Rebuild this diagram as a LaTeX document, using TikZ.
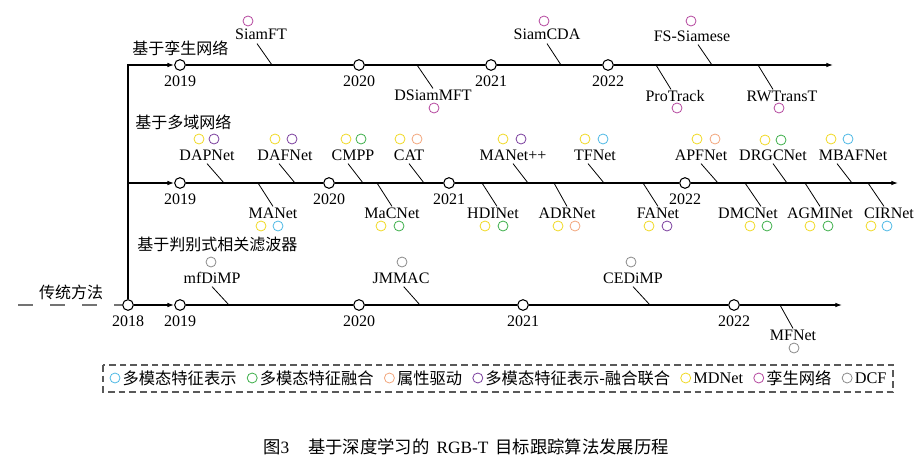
\documentclass[tikz,border=0pt]{standalone}
\usepackage{fontspec}
\setmainfont{Liberation Serif}
\newfontfamily\cjk{Noto Sans CJK SC}
\usetikzlibrary{arrows.meta,positioning}

\definecolor{repcol}{HTML}{4DB8E4}
\definecolor{fuscol}{HTML}{3DAE4A}
\definecolor{attrcol}{HTML}{F2A67C}
\definecolor{jointcol}{HTML}{7A3E9D}
\definecolor{mdncol}{HTML}{F0D924}
\definecolor{siamcol}{HTML}{B4479E}
\definecolor{dcfcol}{HTML}{8A8A8A}

\begin{document}
\begin{tikzpicture}[
    x=0.75pt, y=-0.75pt,
    font=\fontsize{12}{14}\selectfont,
    yearnode/.style={circle, draw, fill=white, line width=0.8pt, minimum size=8pt, inner sep=0pt},
    yearlabel/.style={inner sep=0.5pt, text height=8pt, text depth=2pt},
    algo/.style={inner sep=0.5pt, text height=8pt, text depth=2pt},
    dot/.style={circle, draw=#1, line width=0.6pt, minimum size=7.5pt, inner sep=0pt},
    mainline/.style={draw, line width=0.9pt},
    arrowed/.style={-{Latex[length=5pt, width=3.5pt]}},
    stem/.style={draw, line width=0.6pt},
    grouplabel/.style={anchor=west, inner sep=0pt, font=\cjk\fontsize{12}{14}\selectfont},
    legtext/.style={inner sep=0.5pt, font=\cjk\fontsize{12.2}{14}\selectfont},
    legname/.style={inner sep=0.5pt, font=\fontsize{12.2}{14}\selectfont},
    legbox/.style={draw=black!65, line width=0.9pt, dash pattern=on 5pt off 3pt},
    node distance=1pt
]
\useasboundingbox (0,0) rectangle (923,467);

% year axes
\node[yearnode] (s2019) at (180,65) {};
\node[yearnode] (s2020) at (359,65) {};
\node[yearnode] (s2021) at (491,65) {};
\node[yearnode] (s2022) at (608,65) {};
\coordinate (s-end) at (833,65);

\node[yearnode] (m2019) at (180,183) {};
\node[yearnode] (m2020) at (329,183) {};
\node[yearnode] (m2021) at (449,183) {};
\node[yearnode] (m2022) at (685,183) {};
\coordinate (m-end) at (898,183);

\node[yearnode] (t2018) at (128,305) {};
\node[yearnode] (t2019) at (180,305) {};
\node[yearnode] (t2020) at (359,305) {};
\node[yearnode] (t2021) at (523,305) {};
\node[yearnode] (t2022) at (734,305) {};
\coordinate (t-end) at (842,305);
\coordinate (branch) at (128,183);
\coordinate (old) at (18,305);

\draw[mainline, arrowed] (t2018) |- (s2019);
\draw[mainline, arrowed] (branch) -- (m2019);
\draw[mainline, arrowed] (t2018) -- (t2019);
\draw[mainline, arrowed] (s2019) -- (s2020) -- (s2021) -- (s2022) -- (s-end);
\draw[mainline, arrowed] (m2019) -- (m2020) -- (m2021) -- (m2022) -- (m-end);
\draw[mainline, arrowed] (t2019) -- (t2020) -- (t2021) -- (t2022) -- (t-end);
\draw[mainline, draw=black!55, dash pattern=on 11pt off 13pt] (old) -- (t2018);

\node[yearlabel, below=3pt of s2019] (s2019-l) {2019};
\node[yearlabel, below=3pt of s2020] (s2020-l) {2020};
\node[yearlabel, below=3pt of s2021] (s2021-l) {2021};
\node[yearlabel, below=3pt of s2022] (s2022-l) {2022};
\node[yearlabel, below=3pt of m2019] (m2019-l) {2019};
\node[yearlabel, below=3pt of m2020] (m2020-l) {2020};
\node[yearlabel, below=3pt of m2021] (m2021-l) {2021};
\node[yearlabel, below=3pt of m2022] (m2022-l) {2022};
\node[yearlabel, below=3pt of t2018] (t2018-l) {2018};
\node[yearlabel, below=3pt of t2019] (t2019-l) {2019};
\node[yearlabel, below=3pt of t2020] (t2020-l) {2020};
\node[yearlabel, below=3pt of t2021] (t2021-l) {2021};
\node[yearlabel, below=3pt of t2022] (t2022-l) {2022};

% group titles
\node[grouplabel] (siamese) at (132,48) {基于孪生网络};
\node[grouplabel] (multidomain) at (135,122) {基于多域网络};
\node[grouplabel] (dcf) at (137,244) {基于判别式相关滤波器};
\node[grouplabel, anchor=center] (classic) at (71,292) {传统方法};

% siamese trackers
\node[algo] (siamft) at (261,36) {SiamFT};
\node[algo] (dsiammft) at (433,96) {DSiamMFT};
\node[algo] (siamcda) at (547,36) {SiamCDA};
\node[algo] (fssiamese) at (692,37) {FS-Siamese};
\node[algo] (protrack) at (675,97) {ProTrack};
\node[algo] (rwtranst) at (782,97) {RWTransT};
\coordinate (siamft-f) at (272,65);
\coordinate (dsiammft-f) at (417,65);
\coordinate (siamcda-f) at (561,65);
\coordinate (fssiamese-f) at (712,65);
\coordinate (protrack-f) at (656,65);
\coordinate (rwtranst-f) at (758,65);
\draw[stem] (siamft-f) -- ([xshift=-3pt]siamft.south);
\draw[stem] (dsiammft-f) -- (dsiammft.north);
\draw[stem] (siamcda-f) -- (siamcda.south);
\draw[stem] (fssiamese-f) -- ([xshift=4.5pt]fssiamese.south);
\draw[stem] (protrack-f) -- ([xshift=-3pt]protrack.north);
\draw[stem] (rwtranst-f) -- ([xshift=-6.75pt]rwtranst.north);
\node[dot=siamcol] (siamft-a) at (248,21) {};
\node[dot=siamcol] (dsiammft-a) at (434,108) {};
\node[dot=siamcol] (siamcda-a) at (544,21) {};
\node[dot=siamcol] (fssiamese-a) at (691,21) {};
\node[dot=siamcol] (protrack-a) at (677,108) {};
\node[dot=siamcol] (rwtranst-a) at (779,108) {};

% multi-domain trackers
\node[algo] (dapnet) at (207,156) {DAPNet};
\node[algo] (dafnet) at (285,156) {DAFNet};
\node[algo] (cmpp) at (353,156) {CMPP};
\node[algo] (cat) at (409,156) {CAT};
\node[algo] (manetpp) at (513,156) {MANet++};
\node[algo] (tfnet) at (595,156) {TFNet};
\node[algo] (apfnet) at (701,156) {APFNet};
\node[algo] (drgcnet) at (773,156) {DRGCNet};
\node[algo] (mbafnet) at (853,156) {MBAFNet};
\node[algo] (manet) at (273,214) {MANet};
\node[algo] (macnet) at (392,214) {MaCNet};
\node[algo] (hdinet) at (493,214) {HDINet};
\node[algo] (adrnet) at (567,214) {ADRNet};
\node[algo] (fanet) at (658,214) {FANet};
\node[algo] (dmcnet) at (748,214) {DMCNet};
\node[algo] (agminet) at (820,214) {AGMINet};
\node[algo] (cirnet) at (889,214) {CIRNet};
\coordinate (dapnet-f) at (224,183);
\coordinate (dafnet-f) at (295,183);
\coordinate (cmpp-f) at (363,183);
\coordinate (cat-f) at (424,183);
\coordinate (manetpp-f) at (528,183);
\coordinate (tfnet-f) at (604,183);
\coordinate (apfnet-f) at (718,183);
\coordinate (drgcnet-f) at (787,183);
\coordinate (mbafnet-f) at (852,183);
\coordinate (manet-f) at (258,183);
\coordinate (macnet-f) at (377,183);
\coordinate (hdinet-f) at (482,183);
\coordinate (adrnet-f) at (554,183);
\coordinate (fanet-f) at (643,183);
\coordinate (dmcnet-f) at (745,183);
\coordinate (agminet-f) at (805,183);
\coordinate (cirnet-f) at (868,183);
\draw[stem] (dapnet-f) -- (dapnet.south);
\draw[stem] (dafnet-f) -- ([xshift=-4.5pt]dafnet.south);
\draw[stem] (cmpp-f) -- ([xshift=-3.75pt]cmpp.south);
\draw[stem] (cat-f) -- (cat.south);
\draw[stem] (manetpp-f) -- (manetpp.south);
\draw[stem] (tfnet-f) -- ([xshift=-5.25pt]tfnet.south);
\draw[stem] (apfnet-f) -- (apfnet.south);
\draw[stem] (drgcnet-f) -- (drgcnet.south);
\draw[stem] (mbafnet-f) -- ([xshift=-12pt]mbafnet.south);
\draw[stem] (manet-f) -- (manet.north);
\draw[stem] (macnet-f) -- (macnet.north);
\draw[stem] (hdinet-f) -- ([xshift=3pt]hdinet.north);
\draw[stem] (adrnet-f) -- (adrnet.north);
\draw[stem] (fanet-f) -- (fanet.north);
\draw[stem] (dmcnet-f) -- ([xshift=9.75pt]dmcnet.north);
\draw[stem] (agminet-f) -- (agminet.north);
\draw[stem] (cirnet-f) -- ([xshift=-3.75pt]cirnet.north);
\node[dot=mdncol] (dapnet-a) at (199,139) {};
\node[dot=jointcol] (dapnet-b) at (214,139) {};
\node[dot=mdncol] (dafnet-a) at (275,139) {};
\node[dot=jointcol] (dafnet-b) at (292,139) {};
\node[dot=mdncol] (cmpp-a) at (346,139) {};
\node[dot=fuscol] (cmpp-b) at (361,139) {};
\node[dot=mdncol] (cat-a) at (400,139) {};
\node[dot=attrcol] (cat-b) at (417,139) {};
\node[dot=mdncol] (manetpp-a) at (503,139) {};
\node[dot=jointcol] (manetpp-b) at (521,139) {};
\node[dot=mdncol] (tfnet-a) at (585,139) {};
\node[dot=repcol] (tfnet-b) at (603,139) {};
\node[dot=mdncol] (apfnet-a) at (697,139) {};
\node[dot=attrcol] (apfnet-b) at (715,139) {};
\node[dot=mdncol] (drgcnet-a) at (765,140) {};
\node[dot=fuscol] (drgcnet-b) at (781,140) {};
\node[dot=mdncol] (mbafnet-a) at (831,139) {};
\node[dot=repcol] (mbafnet-b) at (848,139) {};
\node[dot=mdncol] (manet-a) at (261,226) {};
\node[dot=repcol] (manet-b) at (278,226) {};
\node[dot=mdncol] (macnet-a) at (381,226) {};
\node[dot=fuscol] (macnet-b) at (399,226) {};
\node[dot=mdncol] (hdinet-a) at (485,226) {};
\node[dot=fuscol] (hdinet-b) at (503,226) {};
\node[dot=mdncol] (adrnet-a) at (558,226) {};
\node[dot=attrcol] (adrnet-b) at (575,226) {};
\node[dot=mdncol] (fanet-a) at (649,226) {};
\node[dot=jointcol] (fanet-b) at (667,226) {};
\node[dot=mdncol] (dmcnet-a) at (750,226) {};
\node[dot=fuscol] (dmcnet-b) at (767,226) {};
\node[dot=mdncol] (agminet-a) at (810,226) {};
\node[dot=fuscol] (agminet-b) at (828,226) {};
\node[dot=mdncol] (cirnet-a) at (871,226) {};
\node[dot=repcol] (cirnet-b) at (887,226) {};

% correlation filter trackers
\node[algo] (mfdimp) at (212,279) {mfDiMP};
\node[algo] (jmmac) at (401,279) {JMMAC};
\node[algo] (cedimp) at (633,279) {CEDiMP};
\node[algo] (mfnet) at (793,336) {MFNet};
\coordinate (mfdimp-f) at (229,305);
\coordinate (jmmac-f) at (420,305);
\coordinate (cedimp-f) at (650,305);
\coordinate (mfnet-f) at (780,305);
\draw[stem] (mfdimp-f) -- (mfdimp.south);
\draw[stem] (jmmac-f) -- ([xshift=2pt]jmmac.south);
\draw[stem] (cedimp-f) -- (cedimp.south);
\draw[stem] (mfnet-f) -- (mfnet.north);
\node[dot=dcfcol] (mfdimp-a) at (211,262) {};
\node[dot=dcfcol] (jmmac-a) at (402,262) {};
\node[dot=dcfcol] (cedimp-a) at (631,262) {};
\node[dot=dcfcol] (mfnet-a) at (794,348) {};

% legend
\draw[legbox] (103,365) rectangle (893,392);
\node[dot=repcol] (lg1) at (115,378) {};
\node[legtext, right=1pt of lg1] (lt1) {多模态特征表示};
\node[dot=fuscol, right=7pt of lt1] (lg2) {};
\node[legtext, right=1pt of lg2] (lt2) {多模态特征融合};
\node[dot=attrcol, right=7pt of lt2] (lg3) {};
\node[legtext, right=1pt of lg3] (lt3) {属性驱动};
\node[dot=jointcol, right=7pt of lt3] (lg4) {};
\node[legtext, right=1pt of lg4] (lt4) {多模态特征表示-融合联合};
\node[dot=mdncol, right=7pt of lt4] (lg5) {};
\node[legname, right=1pt of lg5] (lt5) {MDNet};
\node[dot=siamcol, right=7pt of lt5] (lg6) {};
\node[legtext, right=1pt of lg6] (lt6) {孪生网络};
\node[dot=dcfcol, right=7pt of lt6] (lg7) {};
\node[legname, right=1pt of lg7] (lt7) {DCF};

% caption
\node[font=\fontsize{13}{15}\selectfont] (caption) at (466,447)
    {{\cjk 图}3\hspace{1.1em}{\cjk 基于深度学习的}\hspace{0.4em}RGB-T\hspace{0.4em}{\cjk 目标跟踪算法发展历程}};
\end{tikzpicture}
\end{document}
